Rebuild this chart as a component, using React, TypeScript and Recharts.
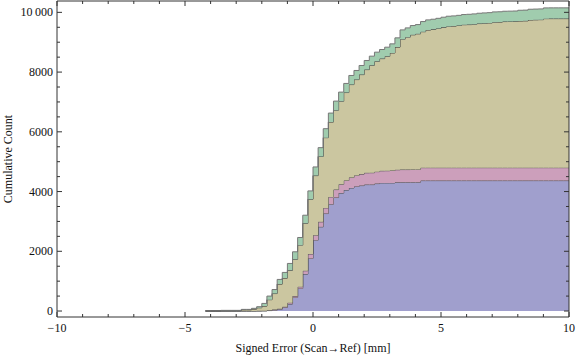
import { AreaChart, Area, XAxis, YAxis } from 'recharts'

// left edge of each 0.2 mm bin
const binStart = [
  -4.2, -4, -3.8, -3.6, -3.4, -3.2, -3, -2.8, -2.6, -2.4, -2.2, -2, -1.8, -1.6, -1.4, -1.2, -1, -0.8, -0.6, -0.4, -0.2,
  0, 0.2, 0.4, 0.6, 0.8, 1, 1.2, 1.4, 1.6, 1.8, 2, 2.2, 2.4, 2.6, 2.8, 3, 3.2, 3.4, 3.6, 3.8,
  4, 4.2, 4.4, 4.6, 4.8, 5, 5.2, 5.4, 5.6, 5.8, 6, 6.2, 6.4, 6.6, 6.8, 7, 7.2, 7.4, 7.6, 7.8,
  8, 8.2, 8.4, 8.6, 8.8, 9, 9.2, 9.4, 9.6, 9.8,
]

// cumulative counts per group
const blue = [
  0, 0, 0, 0, 0, 0, 0, 0, 0, 0,
  2, 5, 15, 30, 60, 120, 234, 457, 758, 1237, 1760,
  2373, 2818, 3264, 3576, 3800, 3950, 4050, 4120, 4170, 4200, 4233, 4233, 4267, 4290, 4290, 4290, 4310, 4311, 4311, 4311, 4311,
  4367, 4367, 4367, 4367, 4367, 4367, 4367, 4367, 4367, 4367, 4367, 4367, 4367, 4367, 4367, 4367, 4367, 4367, 4367, 4367,
  4367, 4367, 4367, 4367, 4367, 4367, 4367, 4367, 4367,
]
const pink = [
  0, 0, 0, 0, 0, 0, 0,
  2, 2, 4, 4, 5, 15, 20, 20, 25, 44, 44, 55, 111, 150,
  167, 168, 189, 245, 266, 294, 320, 350, 370, 385, 395, 398, 400, 405, 408, 415, 420, 425, 425, 428, 430,
  433, 433, 433, 433, 433, 433, 433, 433, 433, 433, 433, 433, 433, 433, 433, 433, 433, 433, 433, 433,
  433, 433, 433, 433, 433, 433, 433, 433, 433,
]
const tan = [
  3, 3, 3, 15, 15, 15, 15,
  38, 38, 61, 104, 155, 350, 535, 822, 957, 1085, 1232, 1393, 1590, 1832,
  1994, 2189, 2352, 2507, 2658, 2781, 2945, 3112, 3209, 3331, 3455, 3597, 3695, 3756, 3831, 3935, 4106, 4367, 4434, 4509, 4540,
  4552, 4608, 4630, 4660, 4697, 4730, 4741, 4760, 4786, 4790, 4803, 4825, 4836, 4845, 4870, 4875, 4892, 4895, 4900, 4910,
  4915, 4944, 4950, 4955, 4989, 4990, 4990, 4990, 4990,
]
const green = [
  2, 2, 2, 7, 7, 7, 7,
  15, 15, 25, 35, 90, 120, 135, 156, 190, 230, 250, 256, 270, 280,
  290, 295, 300, 300, 305, 305, 305, 305, 305, 305, 305, 305, 305, 305, 305, 305, 310, 310, 310, 310, 310,
  340, 340, 340, 340, 340, 340, 340, 340, 340, 345, 345, 345, 345, 345, 345, 345, 345, 345, 345, 360,
  360, 360, 360, 360, 360, 360, 360, 360, 360,
]

const xTicks = [-10, -9, -8, -7, -6, -5, -4, -3, -2, -1, 0, 1, 2, 3, 4, 5, 6, 7, 8, 9, 10]
const yTicks = [
  0, 500, 1000, 1500, 2000, 2500, 3000, 3500, 4000, 4500, 5000,
  5500, 6000, 6500, 7000, 7500, 8000, 8500, 9000, 9500, 10000,
]

const rows = binStart.map((x, i) => ({ x, blue: blue[i], pink: pink[i], tan: tan[i], green: green[i] }))
const last = rows.length - 1
rows.push({ ...rows[last], x: 10 })

const textStyle = { fontFamily: 'Liberation Serif, Times New Roman, serif', fontSize: '12px' }
const frame = '#333'

const fmtX = (v: number) => (v < 0 ? '\u2212' + Math.abs(v) : String(v))
const fmtY = (v: number) => (v >= 10000 ? '10\u2009000' : String(v))

const BottomTick = (props: any) => {
  const { x, y, payload } = props
  const major = payload.value % 5 === 0
  return (
    <g>
      <line x1={x} x2={x} y1={y} y2={y - (major ? 5 : 3)} stroke={frame} />
      {major && (
        <text x={x} y={y + 15} textAnchor="middle" fill="#111" style={textStyle}>
          {fmtX(payload.value)}
        </text>
      )}
    </g>
  )
}

const TopTick = (props: any) => {
  const { x, y, payload } = props
  const major = payload.value % 5 === 0
  return <line x1={x} x2={x} y1={y} y2={y + (major ? 5 : 3)} stroke={frame} />
}

const LeftTick = (props: any) => {
  const { x, y, payload } = props
  const major = payload.value % 2000 === 0
  return (
    <g>
      <line x1={x} x2={x + (major ? 5 : 3)} y1={y} y2={y} stroke={frame} />
      {major && (
        <text x={x - 4} y={y + 4} textAnchor="end" fill="#111" style={textStyle}>
          {fmtY(payload.value)}
        </text>
      )}
    </g>
  )
}

const RightTick = (props: any) => {
  const { x, y, payload } = props
  const major = payload.value % 2000 === 0
  return <line x1={x} x2={x - (major ? 5 : 3)} y1={y} y2={y} stroke={frame} />
}

const XLabel = (props: any) => {
  const { viewBox } = props
  return (
    <text x={viewBox.x + viewBox.width / 2} y={viewBox.y + viewBox.height - 5} textAnchor="middle" fill="#111" style={textStyle}>
      Signed Error (Scan→Ref) [mm]
    </text>
  )
}

const YLabel = (props: any) => {
  const { viewBox } = props
  const cx = viewBox.x + 12
  const cy = viewBox.y + viewBox.height / 2
  return (
    <text x={cx} y={cy} textAnchor="middle" transform={`rotate(-90 ${cx} ${cy})`} fill="#111" style={textStyle}>
      Cumulative Count
    </text>
  )
}

export default function App() {
  return (
    <div style={{ position: 'absolute', left: 0, top: 0, background: '#fff' }}>
      <AreaChart width={576} height={357} data={rows} margin={{ top: 1, right: 7, bottom: 0, left: 0 }}>
        <XAxis
          dataKey="x"
          type="number"
          domain={[-10, 10]}
          ticks={xTicks}
          interval={0}
          allowDataOverflow
          height={40}
          tickSize={0}
          tickMargin={0}
          tickLine={false}
          tick={<BottomTick />}
          axisLine={{ stroke: frame }}
          label={<XLabel />}
        />
        <XAxis
          xAxisId="top"
          orientation="top"
          dataKey="x"
          type="number"
          domain={[-10, 10]}
          ticks={xTicks}
          interval={0}
          allowDataOverflow
          mirror
          tickSize={0}
          tickMargin={0}
          tickLine={false}
          tick={<TopTick />}
          axisLine={{ stroke: frame }}
        />
        <YAxis
          type="number"
          domain={[-200, 10380]}
          ticks={yTicks}
          interval={0}
          allowDataOverflow
          width={57}
          tickSize={0}
          tickMargin={0}
          tickLine={false}
          tick={<LeftTick />}
          axisLine={{ stroke: frame }}
          label={<YLabel />}
        />
        <YAxis
          yAxisId="right"
          orientation="right"
          type="number"
          domain={[-200, 10380]}
          ticks={yTicks}
          interval={0}
          allowDataOverflow
          mirror
          tickSize={0}
          tickMargin={0}
          tickLine={false}
          tick={<RightTick />}
          axisLine={{ stroke: frame }}
        />
        <Area type="stepAfter" dataKey="blue" stackId="a" fill="#a09fcd" fillOpacity={1} stroke="#4d4d4d" strokeWidth={1} isAnimationActive={false} />
        <Area type="stepAfter" dataKey="pink" stackId="a" fill="#cc9fbb" fillOpacity={1} stroke="#4d4d4d" strokeWidth={1} isAnimationActive={false} />
        <Area type="stepAfter" dataKey="tan" stackId="a" fill="#cbc6a0" fillOpacity={1} stroke="#3f3f3f" strokeWidth={1} isAnimationActive={false} />
        <Area type="stepAfter" dataKey="green" stackId="a" fill="#a0ccae" fillOpacity={1} stroke="#777" strokeWidth={1} isAnimationActive={false} />
      </AreaChart>
    </div>
  )
}
